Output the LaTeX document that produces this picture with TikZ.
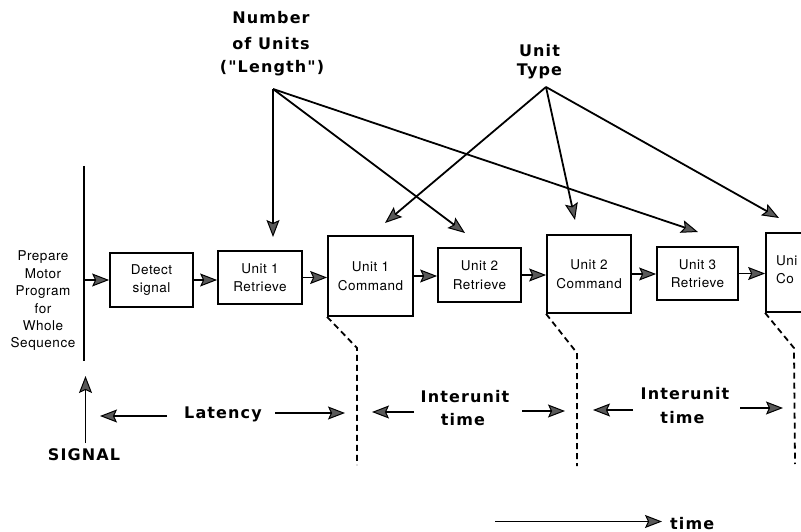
\documentclass[tikz,border=0pt]{standalone}
\usepackage{fontspec}
\setmainfont{TeX Gyre Heros}
\newfontfamily\boxfont[LetterSpace=4]{TeX Gyre Heros}
\newfontfamily\chifont[LetterSpace=7]{DejaVu Sans}
\usetikzlibrary{arrows.meta}
\begin{document}
\begin{tikzpicture}[x=1pt,y=-1pt,
  arr/.style={line width=1.8pt,-{Stealth[length=17pt,width=13pt,inset=3pt,fill=black!65,line width=1pt]}},
  box/.style={draw,line width=1.8pt,align=center,inner sep=0pt,font=\boxfont\fontsize{13.5}{18.5}\selectfont},
  lab/.style={font=\chifont\bfseries\fontsize{16}{23}\selectfont,anchor=base,inner sep=0pt},
  dsh/.style={line width=1.8pt,dash pattern=on 6pt off 4pt},
  plain/.style={line width=1.8pt}
]
\useasboundingbox (0,0) rectangle (801,532);
\clip (0,0) rectangle (801,532);

% left text and vertical line
\node[align=center,inner sep=0pt,font=\boxfont\fontsize{13.5}{17.4}\selectfont] (prep) at (43,301)
  {Prepare\\Motor\\Program\\for\\Whole\\Sequence};
\coordinate (vt) at (84,166);
\coordinate (vb) at (84,361);
\draw[plain] (vt) -- (vb);
\coordinate (vl) at (84,280);

% boxes
\node[box,minimum width=83pt,minimum height=54pt] (det) at (151.5,280) {Detect\\signal};
\node[box,minimum width=84pt,minimum height=53pt] (r1) at (260,277.5) {Unit 1\\Retrieve};
\node[box,minimum width=85pt,minimum height=80pt] (c1) at (370.5,276) {Unit 1\\Command};
\node[box,minimum width=83pt,minimum height=54pt] (r2) at (479.5,275) {Unit 2\\Retrieve};
\node[box,minimum width=84pt,minimum height=78pt] (c2) at (589,274) {Unit 2\\Command};
\node[box,minimum width=81pt,minimum height=53pt] (r3) at (697.5,273.5) {Unit 3\\Retrieve};
\node[box,minimum width=85pt,minimum height=79pt] (c3) at (808.5,272.5) {};
\node[anchor=base west,inner sep=0pt,font=\boxfont\fontsize{13.5}{18}\selectfont] (c3a) at (776,265) {Uni};
\node[anchor=base west,inner sep=0pt,font=\boxfont\fontsize{13.5}{18}\selectfont] (c3b) at (776,283) {Co};

% chain arrows
\draw[arr] (vl) -- (det.west);
\draw[arr] (det.east) -- (det.east -| r1.west);
\draw[arr] (r1.east) -- (r1.east -| c1.west);
\draw[arr] (c1.east) -- (c1.east -| r2.west);
\draw[arr] (r2.east) -- (r2.east -| c2.west);
\draw[arr] (c2.east) -- (c2.east -| r3.west);
\draw[arr] (r3.east) -- (r3.east -| c3.west);

% dashed boundaries
\draw[dsh] (c1.south west) -- (357,348) -- (357,465);
\draw[dsh] (c2.south west) -- (577,353) -- (577,466);
\draw[dsh] (c3.south west) -- (794,348) -- (795,464);

% top labels
\node[lab] (n1) at (271,24) {Number};
\node[lab] (n2) at (271,50) {of Units};
\node[lab] (n3) at (272,73) {("Length")};
\node[lab] (u1) at (539.5,57) {Unit};
\node[lab] (u2) at (539.5,76) {Type};
\coordinate (nA) at (273,89);
\coordinate (uA) at (546,87);
\coordinate (tn1) at (273,237);
\coordinate (tn2) at (465,233);
\coordinate (tn3) at (698,232);
\coordinate (tu1) at (385,223);
\coordinate (tu2) at (575,220);
\coordinate (tu3) at (779,218);
\draw[arr] (nA) -- (tn1);
\draw[arr] (nA) -- (tn2);
\draw[arr] (nA) -- (tn3);
\draw[arr] (uA) -- (tu1);
\draw[arr] (uA) -- (tu2);
\draw[arr] (uA) -- (tu3);

% interval labels
\node[lab] (lat) at (223,418) {Latency};
\node[lab] (i1a) at (465,402) {Interunit};
\node[lab] (i1b) at (463,425) {time};
\node[lab] (i2a) at (685,399) {Interunit};
\node[lab] (i2b) at (682.5,423) {time};
\coordinate (la1) at (167,416); \coordinate (la2) at (100,416);
\coordinate (lb1) at (275,413); \coordinate (lb2) at (345,413);
\coordinate (ia1) at (414,412); \coordinate (ia2) at (372,412);
\coordinate (ib1) at (522,411); \coordinate (ib2) at (565,411);
\coordinate (ja1) at (633,410); \coordinate (ja2) at (593,410);
\coordinate (jb1) at (740,408); \coordinate (jb2) at (783,408);
\draw[arr] (la1) -- (la2);
\draw[arr] (lb1) -- (lb2);
\draw[arr] (ia1) -- (ia2);
\draw[arr] (ib1) -- (ib2);
\draw[arr] (ja1) -- (ja2);
\draw[arr] (jb1) -- (jb2);

% signal
\node[lab] (sig) at (84,460) {SIGNAL};
\coordinate (sb) at (85.5,443);
\coordinate (st) at (85.5,376);
\draw[arr] (sb) -- (st);

% time axis
\node[lab,anchor=base west] (tm) at (670,529) {time};
\coordinate (t0) at (495,521.5);
\coordinate (t1) at (662,521.5);
\draw[arr] (t0) -- (t1);
\end{tikzpicture}
\end{document}
